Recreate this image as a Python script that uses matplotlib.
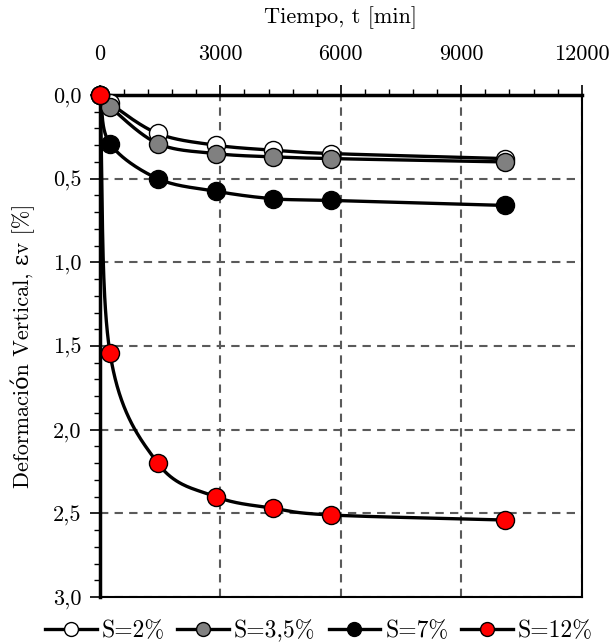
import numpy as np
import matplotlib
matplotlib.use("Agg")
import matplotlib.pyplot as plt
from matplotlib.ticker import MultipleLocator, FuncFormatter

plt.rcParams['font.family'] = ['cmr10', 'DejaVu Serif']
plt.rcParams['axes.formatter.use_mathtext'] = True

tiempo = [0, 250, 1440, 2880, 4320, 5760, 10080]
s2 = [0.0, 0.05, 0.23, 0.30, 0.33, 0.35, 0.38]
s35 = [0.0, 0.07, 0.29, 0.35, 0.37, 0.38, 0.40]
s7 = [0.0, 0.29, 0.50, 0.575, 0.62, 0.63, 0.66]
s12 = [0.0, 1.54, 2.20, 2.40, 2.47, 2.51, 2.54]

etiquetas = ["S=2%", "S=3,5%", "S=7%", "S=12%"]
colores = ["white", "gray", "black", "red"]

FS = 16


def suavizar(x, y, n=40):
    # catmull-rom en coordenadas normalizadas (como la linea suavizada de Excel)
    px = np.asarray(x, float) / 12000.0
    py = np.asarray(y, float) / 3.0
    P = np.column_stack([px, py])
    P = np.vstack([P[0] - (P[1] - P[0]), P, P[-1] + (P[-1] - P[-2])])
    out = []
    for i in range(1, len(P) - 2):
        p0, p1, p2, p3 = P[i - 1], P[i], P[i + 1], P[i + 2]
        t = np.linspace(0, 1, n)[:, None]
        c = 0.5 * ((2 * p1) + (-p0 + p2) * t + (2 * p0 - 5 * p1 + 4 * p2 - p3) * t**2
                   + (-p0 + 3 * p1 - 3 * p2 + p3) * t**3)
        out.append(c)
    c = np.vstack(out)
    return c[:, 0] * 12000.0, c[:, 1] * 3.0


fig = plt.figure(figsize=(6.13, 6.44), dpi=100)
ax = fig.add_axes([0.163, 0.073, 0.786, 0.7795])

handles = []
for serie, col, lab in zip([s2, s35, s7, s12], colores, etiquetas):
    xs, ys = suavizar(tiempo, serie)
    ax.plot(xs, ys, color="black", lw=2.4, zorder=3)
    ax.plot(tiempo, serie, ls="none", marker="o", ms=13, mfc=col, mec="black",
            mew=1.0, zorder=4, clip_on=False)
    h, = ax.plot([], [], color="black", lw=2.4, marker="o", ms=10, mfc=col,
                 mec="black", mew=1.0)
    handles.append(h)

ax.set_xlim(0, 12000)
ax.set_ylim(3.0, 0.0)
ax.xaxis.set_major_locator(MultipleLocator(3000))
ax.xaxis.set_minor_locator(MultipleLocator(600))
ax.yaxis.set_major_locator(MultipleLocator(0.5))
ax.yaxis.set_minor_locator(MultipleLocator(0.1))
ax.yaxis.set_major_formatter(FuncFormatter(lambda v, p: f"{v:.1f}".replace(".", ",")))
ax.xaxis.set_major_formatter(FuncFormatter(lambda v, p: f"{int(v)}"))
ax.xaxis.tick_top()
ax.xaxis.set_label_position("top")
ax.tick_params(which="major", direction="out", length=7, width=1.2, labelsize=FS, pad=6)
ax.tick_params(which="minor", direction="out", length=4, width=1.0)
ax.tick_params(axis="x", which="both", bottom=False, top=True)
ax.tick_params(axis="x", which="major", pad=15)

ax.grid(True, which="major", ls=(0, (4, 3)), color="#5a5a5a", lw=1.5)
ax.set_axisbelow(True)

for lado, w in [("left", 2.5), ("top", 2.5), ("right", 1.5), ("bottom", 1.5)]:
    ax.spines[lado].set_linewidth(w)
    ax.spines[lado].set_color("black")

ax.set_xlabel("Tiempo, t [min]", fontsize=FS, labelpad=16)
ax.set_ylabel("Deformación Vertical, εv [%]", fontsize=FS, labelpad=13)

fig.legend(handles=handles, labels=etiquetas, loc="lower center", ncol=4,
           bbox_to_anchor=(0.52, -0.03), frameon=False, fontsize=17,
           handlelength=2.2, handletextpad=0.2, columnspacing=0.55)

fig.savefig("out.png", dpi=100)
